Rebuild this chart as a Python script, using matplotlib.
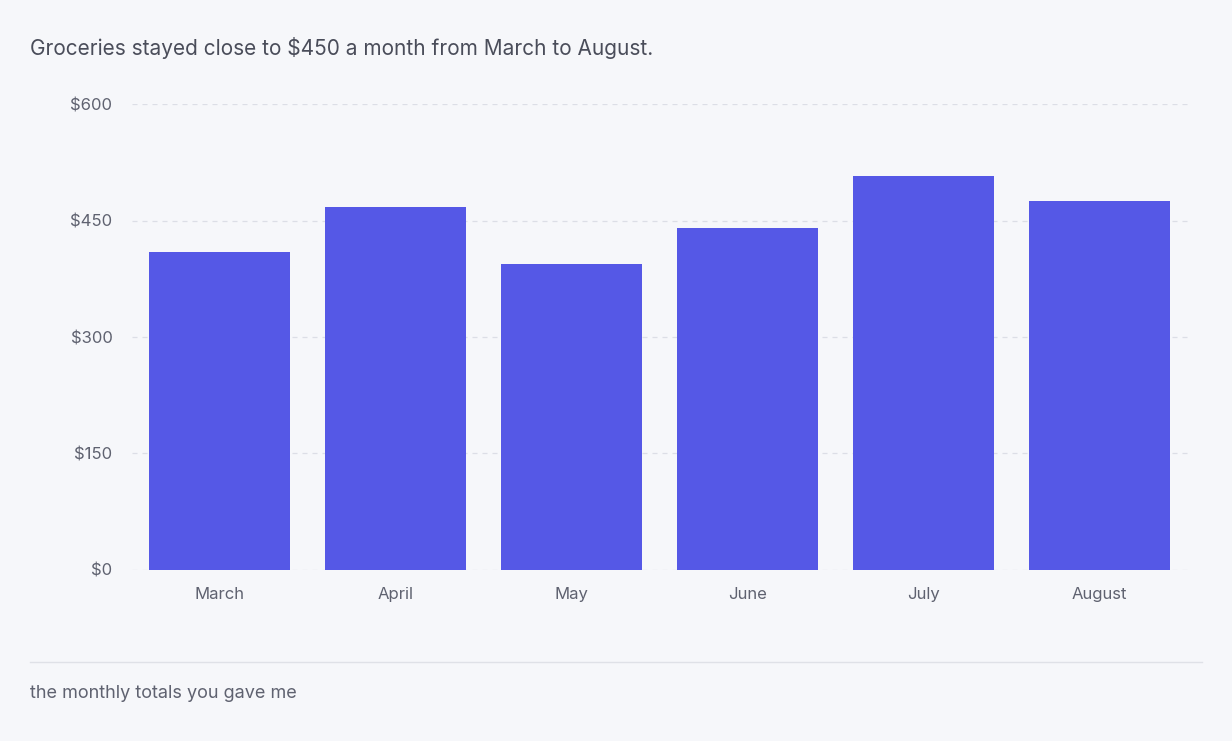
import matplotlib.pyplot as plt
from matplotlib.lines import Line2D

months = ['March', 'April', 'May', 'June', 'July', 'August']
totals = [410, 467, 394, 440, 507, 475]
yticks = [0, 150, 300, 450, 600]

plt.rcParams['font.family'] = ['Inter', 'DejaVu Sans']
bg = '#f6f7fa'
fig = plt.figure(figsize=(12.32, 7.41), dpi=100, facecolor=bg)
ax = fig.add_axes([0.107, 0.2308, 0.857, 0.6288], facecolor=bg)

ax.bar(range(len(months)), totals, width=0.8, color='#5558e6', zorder=3)
ax.set_xlim(-0.5, len(months) - 0.5)
ax.set_ylim(0, 600)
ax.set_yticks(yticks)
ax.set_yticklabels([f'${v}' for v in yticks])
ax.set_xticks(range(len(months)))
ax.set_xticklabels(months)
ax.yaxis.grid(True, color='#dcdee6', linestyle=(0, (4, 4)), linewidth=0.9, zorder=0)
ax.tick_params(length=0, labelsize=12, labelcolor='#5f6270', pad=12)
ax.tick_params(axis='y', pad=14)
for s in ax.spines.values():
    s.set_visible(False)

fig.text(30 / 1232, 1 - 48 / 741, 'Groceries stayed close to $450 a month from March to August.',
         fontsize=15, color='#4a4d5a', va='center')
fig.add_artist(Line2D([30 / 1232, 1202 / 1232], [1 - 662 / 741] * 2, color='#dfe1e7', linewidth=1))
fig.text(30 / 1232, 1 - 693 / 741, 'the monthly totals you gave me',
         fontsize=13, color='#5f6270', va='center')

fig.savefig('out.png', facecolor=bg)
